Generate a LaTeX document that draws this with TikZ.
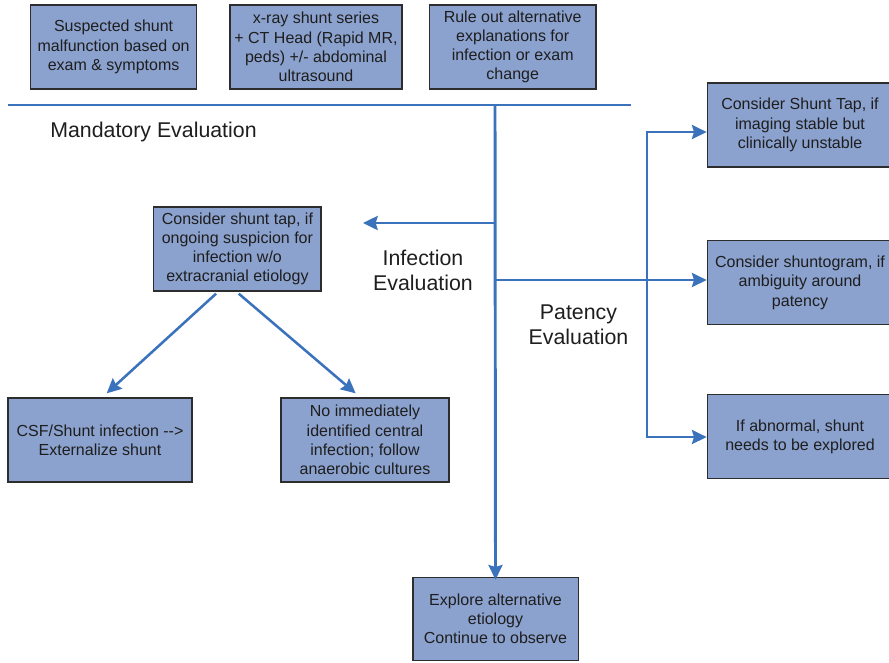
\documentclass[tikz,border=0pt]{standalone}
\usepackage{fontspec}
\setmainfont{Liberation Sans}
\usetikzlibrary{arrows.meta}

\definecolor{boxfill}{RGB}{139,161,206}
\definecolor{boxedge}{RGB}{45,45,45}
\definecolor{flowblue}{RGB}{59,114,188}
\definecolor{inktext}{RGB}{30,30,30}

\tikzset{
  box/.style={draw=boxedge, fill=boxfill, line width=1pt, align=center, text=inktext,
    font=\fontsize{12}{14.4}\selectfont, inner sep=2pt, minimum height=63pt},
  evaltext/.style={align=center, text=inktext, font=\fontsize{16}{18.75}\selectfont, inner sep=0pt},
  wire/.style={draw=flowblue, line width=2.2pt},
  tip/.tip={Stealth[length=11pt,width=10.5pt,inset=1.5pt]},
  flow/.style={wire, -tip},
}

\begin{document}
\begin{tikzpicture}[x=0.75pt,y=0.75pt,yscale=-1,xscale=1]
        \useasboundingbox (0,0) rectangle (889,662); %diagram is 889 wide, 662 high

        %Top row of boxes
        \node [box, minimum width=124.5pt] (suspect) at (113.6,47) {Suspected shunt\\malfunction based on\\exam \& symptoms};
        \node [box, minimum width=129pt] (imaging) at (316,47) {x-ray shunt series\\+ CT Head (Rapid MR,\\peds) +/- abdominal\\ultrasound};
        \node [box, minimum width=125pt] (ruleout) at (512.7,47) {Rule out alternative\\explanations for\\infection or exam\\change};

        %Infection side
        \node [box, minimum width=125.5pt] (tap) at (237.4,249) {Consider shunt tap, if\\ongoing suspicion for\\infection w/o\\extracranial etiology};
        \node [box, minimum width=138pt] (csf) at (100,440) {CSF/Shunt infection -{}->\\Externalize shunt};
        \node [box, minimum width=126pt] (noinf) at (365,440) {No immediately\\identified central\\infection; follow\\anaerobic cultures};

        %Patency side
        \node [box, minimum width=139pt] (shtap) at (800,125) {Consider Shunt Tap, if\\imaging stable but\\clinically unstable};
        \node [box, minimum width=139pt] (shgram) at (800,282.7) {Consider shuntogram, if\\ambiguity around\\patency};
        \node [box, minimum width=139pt] (abnorm) at (800,436.5) {If abnormal, shunt\\needs to be explored};

        %Bottom box
        \node [box, minimum width=124pt, minimum height=62pt] (explore) at (495.5,619) {Explore alternative\\etiology\\Continue to observe};

        % Text Nodes
        \node [evaltext] (mand) at (153.5,132) {Mandatory Evaluation};
        \node [evaltext] (infev) at (423,270) {Infection\\Evaluation};
        \node [evaltext] (patev) at (578.5,325) {Patency\\Evaluation};

        %Junction points
        \coordinate (hl) at (8,105);
        \coordinate (hr) at (631,105);
        \coordinate (trunk) at (495,105);
        \coordinate (infj) at (495,223);
        \coordinate (infend) at (363,223);
        \coordinate (patj) at (495,280);
        \coordinate (brtop) at (647,132);
        \coordinate (brbot) at (647,437);

        %Straight Lines
        \draw [wire] (hl) -- (hr);
        \draw [flow] (trunk) -- ([yshift=2pt]explore.north);
        \draw [flow] (infj) -- (infend);
        \draw [flow] (patj) -- (patj -| shgram.west);
        \draw [wire, tip-tip, line join=miter]
            (brbot -| abnorm.west) -- (brbot) -- (brtop) -- (brtop -| shtap.west);

        %Diagonal arrows
        \draw [flow, line width=1.9pt] ([xshift=-16pt,yshift=1.5pt]tap.south) -- ([xshift=5pt,yshift=-3pt]csf.north);
        \draw [flow, line width=1.9pt] ([xshift=1pt,yshift=1.5pt]tap.south) -- ([xshift=-7pt,yshift=-3pt]noinf.north);

    \end{tikzpicture}
\end{document}
